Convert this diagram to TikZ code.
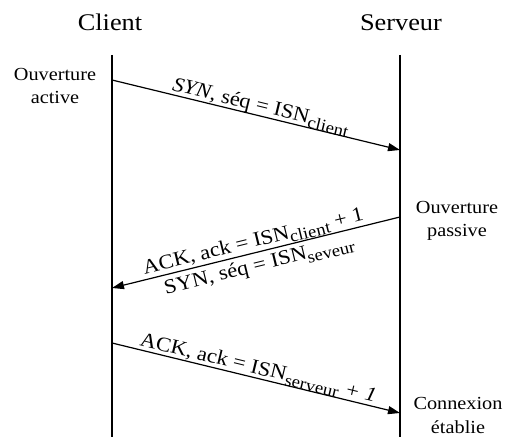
\documentclass[tikz,border=0pt]{standalone}
\usepackage{fontspec}
\setmainfont{Liberation Serif}[FakeStretch=1.1]
\usetikzlibrary{arrows.meta}
% lowered, slightly smaller index after ISN
\newcommand\isnsub[1]{\raisebox{-0.22em}{\fontsize{17}{17}\selectfont #1}}

\begin{document}
\begin{tikzpicture}[x=1bp, y=-1bp,
  lifeline/.style={line width=1.3bp},
  msg/.style={line width=1.2bp, -{Triangle[length=12bp, width=8bp]}},
  title/.style={font=\fontsize{24}{28}\selectfont, anchor=base, inner sep=0pt},
  side/.style={font=\fontsize{18.5}{24}\selectfont, align=center, anchor=base, inner sep=0pt},
  msgtop/.style={sloped, anchor=south, text depth=0pt, inner sep=3.5bp, font=\fontsize{20.5}{24}\selectfont},
  msgbot/.style={sloped, anchor=north, inner sep=4bp, font=\fontsize{20.5}{24}\selectfont}
]
\useasboundingbox (0,0) rectangle (507,437);

% column headings
\node[title] (client) at (110,31) {Client};
\node[title] (server) at (401,31) {Serveur};

% life lines
\coordinate (c0) at (112,55);  \coordinate (c1) at (112,437);
\coordinate (s0) at (400,55);  \coordinate (s1) at (400,437);
\draw[lifeline] (c0) -- (c1);
\draw[lifeline] (s0) -- (s1);

% message end points
\coordinate (m1a) at (112,80);  \coordinate (m1b) at (400,150);
\coordinate (m2a) at (400,217); \coordinate (m2b) at (112,288);
\coordinate (m3a) at (112,343); \coordinate (m3b) at (400,413);

% side notes (anchored on the baseline of their last line)
\node[side] (active) at (55,104) {Ouverture\\active};
\node[side] (passive) at (457,237) {Ouverture\\passive};
\node[side] (etablie) at (458,433) {Connexion\\établie};

% messages
\draw[msg] (m1a) -- node[msgtop, pos=0.51] (l1) {\textit{SYN}, séq = ISN\isnsub{client}} (m1b);
\draw[msg] (m2a) --
  node[msgtop, pos=0.5, inner sep=5bp] (l2a) {ACK, ack = ISN\isnsub{client} + 1}
  node[msgbot, pos=0.5] (l2b) {SYN, séq = ISN\isnsub{seveur}} (m2b);
\draw[msg] (m3a) -- node[msgtop, pos=0.5] (l3) {ACK, ack = ISN\isnsub{serveur} \textit{+ 1}} (m3b);
\end{tikzpicture}
\end{document}
